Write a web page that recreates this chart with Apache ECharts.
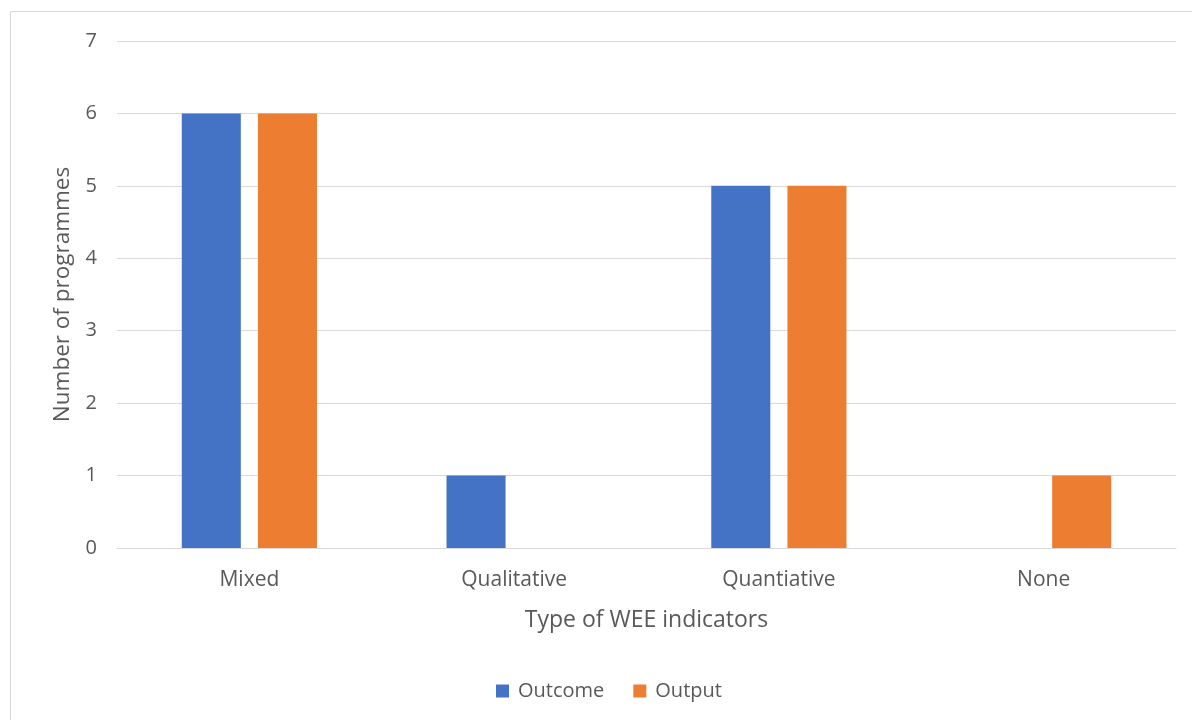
<!DOCTYPE html>
<html><head><meta charset="utf-8">
<script src="https://cdn.jsdelivr.net/npm/echarts@6/dist/echarts.min.js"></script>
<style>html,body{margin:0;padding:0;background:#fff}#c{width:1192px;height:720px}</style>
</head><body><div id="c"></div>
<script>
const categories = ['Mixed', 'Qualitative', 'Quantiative', 'None'];
const outcome = [6, 1, 5, 0];
const output = [6, 0, 5, 1];
const yTicks = [0, 1, 2, 3, 4, 5, 6, 7];

const font = '"Open Sans", "Noto Sans", sans-serif';
const txt = '#595959';
const chart = echarts.init(document.getElementById('c'), null, {renderer: 'canvas'});
chart.setOption({
  animation: false,
  backgroundColor: '#fff',
  graphic: [{type: 'rect', shape: {x: 10.5, y: 11.5, width: 1200, height: 720}, style: {fill: 'none', stroke: '#d9d9d9', lineWidth: 1}, silent: true}],
  grid: {left: 117, right: 16, top: 41, bottom: 172},
  legend: {
    bottom: 14, left: 491, itemWidth: 13, itemHeight: 13, itemGap: 29,
    icon: 'rect',
    textStyle: {color: txt, fontSize: 20, fontFamily: font, padding: [0,0,0,4]},
    data: ['Outcome', 'Output']
  },
  xAxis: {
    type: 'category', data: categories,
    name: 'Type of WEE indicators', nameLocation: 'middle', nameGap: 61,
    nameTextStyle: {color: txt, fontSize: 23, fontFamily: font},
    axisLine: {lineStyle: {color: '#d9d9d9', width: 1}},
    axisTick: {show: false},
    axisLabel: {color: txt, fontSize: 21, fontFamily: font, margin: 22}
  },
  yAxis: {
    type: 'value', min: yTicks[0], max: yTicks[yTicks.length-1], interval: 1,
    name: 'Number of programmes', nameLocation: 'middle', nameGap: 43,
    nameTextStyle: {color: txt, fontSize: 22.5, fontFamily: font},
    axisLine: {show: false}, axisTick: {show: false},
    splitLine: {lineStyle: {color: '#d9d9d9', width: 1}},
    axisLabel: {color: txt, fontSize: 20, fontFamily: font, margin: 20}
  },
  series: [
    {name: 'Outcome', type: 'bar', data: outcome, barWidth: '22.3%', barGap: '29%', itemStyle: {color: '#4472c4'}},
    {name: 'Output', type: 'bar', data: output, barWidth: '22.3%', itemStyle: {color: '#ed7d31'}}
  ]
});
</script></body></html>
